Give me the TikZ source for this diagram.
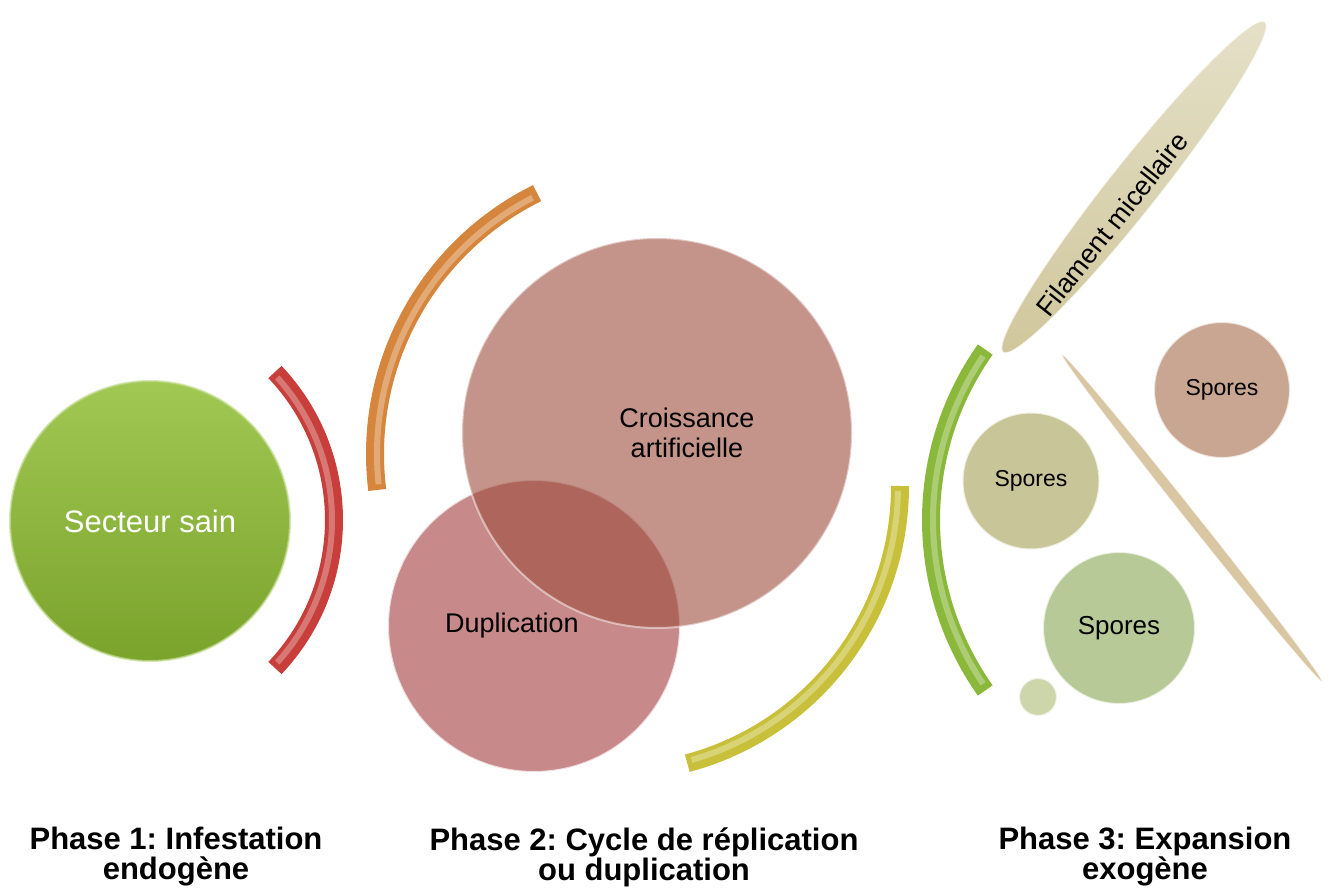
\documentclass[tikz,border=0pt]{standalone}
\usepackage{fontspec}
\setmainfont{Liberation Sans}
\usetikzlibrary{shapes.geometric}
\definecolor{sainhaut}{RGB}{160,200,82}
\definecolor{sainbas}{RGB}{122,163,44}
\definecolor{croiss}{RGB}{157,77,60}
\definecolor{dupli}{RGB}{200,137,138}
\definecolor{arcrouge}{RGB}{200,62,58}
\definecolor{arcorange}{RGB}{214,134,60}
\definecolor{arcjaune}{RGB}{200,192,58}
\definecolor{arcvert}{RGB}{138,184,58}
\definecolor{filam}{RGB}{208,199,156}
\definecolor{aiguille}{RGB}{217,198,163}
\definecolor{sporebrun}{RGB}{201,166,145}
\definecolor{sporeolive}{RGB}{200,197,152}
\definecolor{sporevert}{RGB}{182,201,150}
\definecolor{sporepetit}{RGB}{205,214,170}
\frenchspacing
\tikzset{
    bulle/.style={circle, inner sep=0pt, draw=white, draw opacity=.7, line width=2pt},
    arcbande/.style={line width=18pt, line cap=butt},
    reflet/.style={line width=6pt, line cap=butt, white, opacity=.3},
    phase/.style={font=\fontsize{31}{30}\selectfont\bfseries, align=center}
}

\begin{document}
\begin{tikzpicture}[x=1pt, y=-1pt]
        \useasboundingbox (0,0) rectangle (1333,890);
        % phase 1
        \node (sain) [bulle, top color=sainhaut, bottom color=sainbas, draw=sainhaut!60!white,
                minimum size=280pt, text=white, font=\fontsize{31}{36}\selectfont] at (150,521) {Secteur sain};
        \coordinate (c1) at (119,520);
        \draw [arcbande, arcrouge] (c1) ++(-43.5:215) arc[start angle=-43.5, end angle=43.5, radius=215];
        \draw [reflet] (c1) ++(-42:213) arc[start angle=-42, end angle=42, radius=213];
        % phase 2
        \coordinate (c2) at (666,454);
        \draw [arcbande, arcorange] (c2) ++(172.9:291) arc[start angle=172.9, end angle=243.7, radius=291];
        \draw [reflet] (c2) ++(174:289) arc[start angle=174, end angle=242.5, radius=289];
        \node (dup) [bulle, fill=dupli, minimum size=292pt] at (534,626) {};
        \node (crois) [bulle, fill=croiss, fill opacity=.6, draw opacity=.5, minimum size=390pt] at (657,433) {};
        \node (croistxt) [font=\fontsize{27}{30}\selectfont, align=center] at (687,433) {Croissance\\artificielle};
        \node (duptxt) [font=\fontsize{27}{30}\selectfont] at (512,626) {Duplication};
        \coordinate (c3) at (613,486);
        \draw [arcbande, arcjaune] (c3) ++(0:287) arc[start angle=0, end angle=75, radius=287];
        \draw [reflet] (c3) ++(1:285) arc[start angle=1, end angle=74, radius=285];
        % phase 3
        \coordinate (c4) at (1226,520);
        \draw [arcbande, arcvert] (c4) ++(144.7:295) arc[start angle=144.7, end angle=215.3, radius=295];
        \draw [reflet] (c4) ++(146:293) arc[start angle=146, end angle=214, radius=293];
        \node (fil) [ellipse, inner sep=0pt, top color=filam!55!white, bottom color=filam,
                draw=white, draw opacity=.7, line width=1.5pt,
                minimum width=422pt, minimum height=50pt, rotate=51.6] at (1134,187) {};
        \node (filtxt) [font=\fontsize{27}{30}\selectfont, rotate=51.6] at (1112,224) {Filament micellaire};
        \node (aig) [ellipse, inner sep=0pt, fill=aiguille, draw=white, draw opacity=.6, line width=1pt,
                minimum width=418pt, minimum height=11pt, rotate=-51.5] at (1192,518) {};
        \node (sp1) [bulle, fill=sporebrun, minimum size=136pt, font=\fontsize{23}{28}\selectfont] at (1222,390) {Spores};
        \node (sp2) [bulle, fill=sporeolive, minimum size=137pt, font=\fontsize{23}{28}\selectfont] at (1031,481) {Spores};
        \node (sp3) [bulle, fill=sporevert, minimum size=152pt, font=\fontsize{26}{30}\selectfont] at (1119,628) {Spores};
        \node (sp4) [bulle, fill=sporepetit, minimum size=38pt] at (1038,697) {};
        % legendes
        \node (ph1) [phase] at (176,857) {Phase 1: Infestation\\endogène};
        \node (ph2) [phase] at (644,857) {Phase 2: Cycle de réplication\\ou duplication};
        \node (ph3) [phase] at (1145,857) {Phase 3: Expansion\\exogène};
\end{tikzpicture}
\end{document}
